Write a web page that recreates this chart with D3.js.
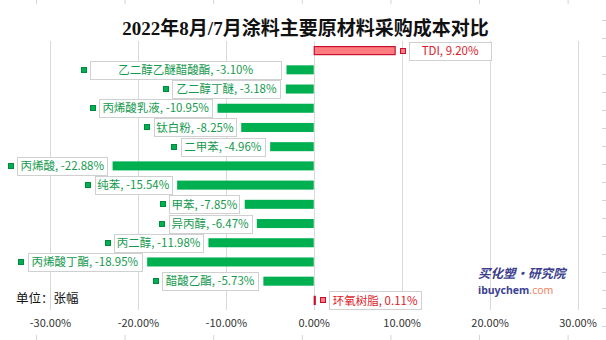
<!DOCTYPE html>
<html><head><meta charset="utf-8">
<script src="https://cdn.jsdelivr.net/npm/d3@7"></script>
<style>
html,body{margin:0;padding:0;background:#fff;}
svg{display:block;}
</style></head>
<body>
<svg id="c" width="606" height="340"></svg>
<script>
// ---- data ----
const categories = ["TDI","乙二醇乙醚醋酸酯","乙二醇丁醚","丙烯酸乳液","钛白粉","二甲苯","丙烯酸","纯苯","甲苯","异丙醇","丙二醇","丙烯酸丁酯","醋酸乙酯","环氧树脂"];
const changePct = [9.20,-3.10,-3.18,-10.95,-8.25,-4.96,-22.88,-15.54,-7.85,-6.47,-11.98,-18.95,-5.73,0.11];
const xTicks = [-30,-20,-10,0,10,20,30];
const titleText = "2022年8月/7月涂料主要原材料采购成本对比";
const unitText = "单位：张幅";
// callout box widths (layout)
const calloutWidths = [82,191,108,113,82,84,90,77,70,83,89,114,96,92];

const svg = d3.select("#c");
const font = "'Noto Sans CJK SC','Noto Sans',sans-serif";

const x = d3.scaleLinear().domain([-30,30]).range([50,577.5]);
const y = d3.scaleBand().domain(categories).range([41,310]).paddingInner(0.53).paddingOuter(0.265);

// decorative edge ticks (from the source screenshot)
const edge = svg.append("g").attr("stroke","#d4d4d4").attr("stroke-width",1);
d3.range(18).forEach(i=>{
  edge.append("line").attr("x1",602).attr("x2",606).attr("y1",20.5+i*18).attr("y2",20.5+i*18);
});
d3.range(7).forEach(i=>{
  const xx = 36.5 + i*88.6;
  edge.append("line").attr("x1",xx).attr("x2",xx).attr("y1",335).attr("y2",340);
  edge.append("line").attr("x1",xx).attr("x2",xx).attr("y1",0).attr("y2",4);
});

// title
svg.append("text").attr("x",305.5).attr("y",35)
  .attr("text-anchor","middle")
  .attr("font-family","'Liberation Serif','Noto Sans CJK SC',serif")
  .attr("font-weight","bold").attr("font-size",19).attr("fill","#111")
  .text(titleText);

// gridlines
svg.append("g").selectAll("line").data(xTicks).join("line")
  .attr("x1",d=>Math.round(x(d))+0.5).attr("x2",d=>Math.round(x(d))+0.5)
  .attr("y1",41).attr("y2",310)
  .attr("stroke","#d9d9d9").attr("stroke-width",1);

// x axis labels
const ax = d3.axisBottom(x).tickValues(xTicks).tickSize(0).tickFormat(d=>d.toFixed(2)+"%");
const axG = svg.append("g").attr("transform","translate(0,316)").call(ax);
axG.select(".domain").remove();
axG.selectAll("text").attr("font-family",font).attr("font-size",11).attr("fill","#333").attr("dy","0.71em");

// bars
const rows = categories.map((c,i)=>({c, v:changePct[i], w:calloutWidths[i]}));
const GREEN="#00b050", RED_FILL="#ff7c80", RED_LINE="#c8102e";
svg.append("g").selectAll("rect").data(rows).join("rect")
  .attr("x",d=>x(Math.min(0,d.v)) + (d.v>0?0.5:0))
  .attr("y",d=>y(d.c)+(d.v>0?0.5:0))
  .attr("width",d=>Math.max(1,Math.abs(x(d.v)-x(0))))
  .attr("height",d=>y.bandwidth()-(d.v>0?1:0))
  .attr("fill",d=>d.v<0?GREEN:RED_FILL)
  .attr("stroke",d=>d.v<0?"none":RED_LINE)
  .attr("stroke-width",1.2);

// callouts
const lab = svg.append("g").selectAll("g").data(rows).join("g");
const bh = 18;
lab.each(function(d){
  const g = d3.select(this);
  const cy = y(d.c)+y.bandwidth()/2;
  const end = x(d.v);
  const boxL = d.v<0 ? end-5.3-d.w : end+14.5;
  const pos = d.v>0;
  g.append("rect").attr("x",Math.round(boxL)+0.5).attr("y",Math.round(cy-bh/2)+0.5)
    .attr("width",d.w).attr("height",bh)
    .attr("fill","#fff").attr("stroke","#d0d0d0").attr("stroke-width",1);
  g.append("rect").attr("x",Math.round(boxL-9.5)+0.5).attr("y",Math.round(cy-3)+0.5)
    .attr("width",5).attr("height",5)
    .attr("fill",pos?RED_FILL:GREEN).attr("stroke",pos?RED_LINE:"#008a3e").attr("stroke-width",1);
  g.append("text").attr("x",boxL+d.w/2).attr("y",cy+4.2)
    .attr("text-anchor","middle").attr("font-family",font).attr("font-size",11.5)
    .attr("fill",pos?"#dc1c2a":"#169a4e")
    .text(d.c+", "+d.v.toFixed(2)+"%");
});

// unit
svg.append("text").attr("x",16).attr("y",303).attr("font-family",font).attr("font-size",12.5).attr("fill","#111").text(unitText);

// watermark
svg.append("text").attr("x",478).attr("y",278).attr("font-family",font).attr("font-weight","bold")
  .attr("font-style","italic").attr("font-size",12.5).attr("fill","#3c3f8e")
  .text("买化塑·研究院");
const wm = svg.append("text").attr("x",478).attr("y",293.5).attr("font-family","'Noto Sans',sans-serif").attr("font-size",10.5);
wm.append("tspan").attr("fill","#3c4393").attr("font-weight","bold").text("ibuychem");
wm.append("tspan").attr("fill","#f08466").text(".com");
</script>
</body></html>
